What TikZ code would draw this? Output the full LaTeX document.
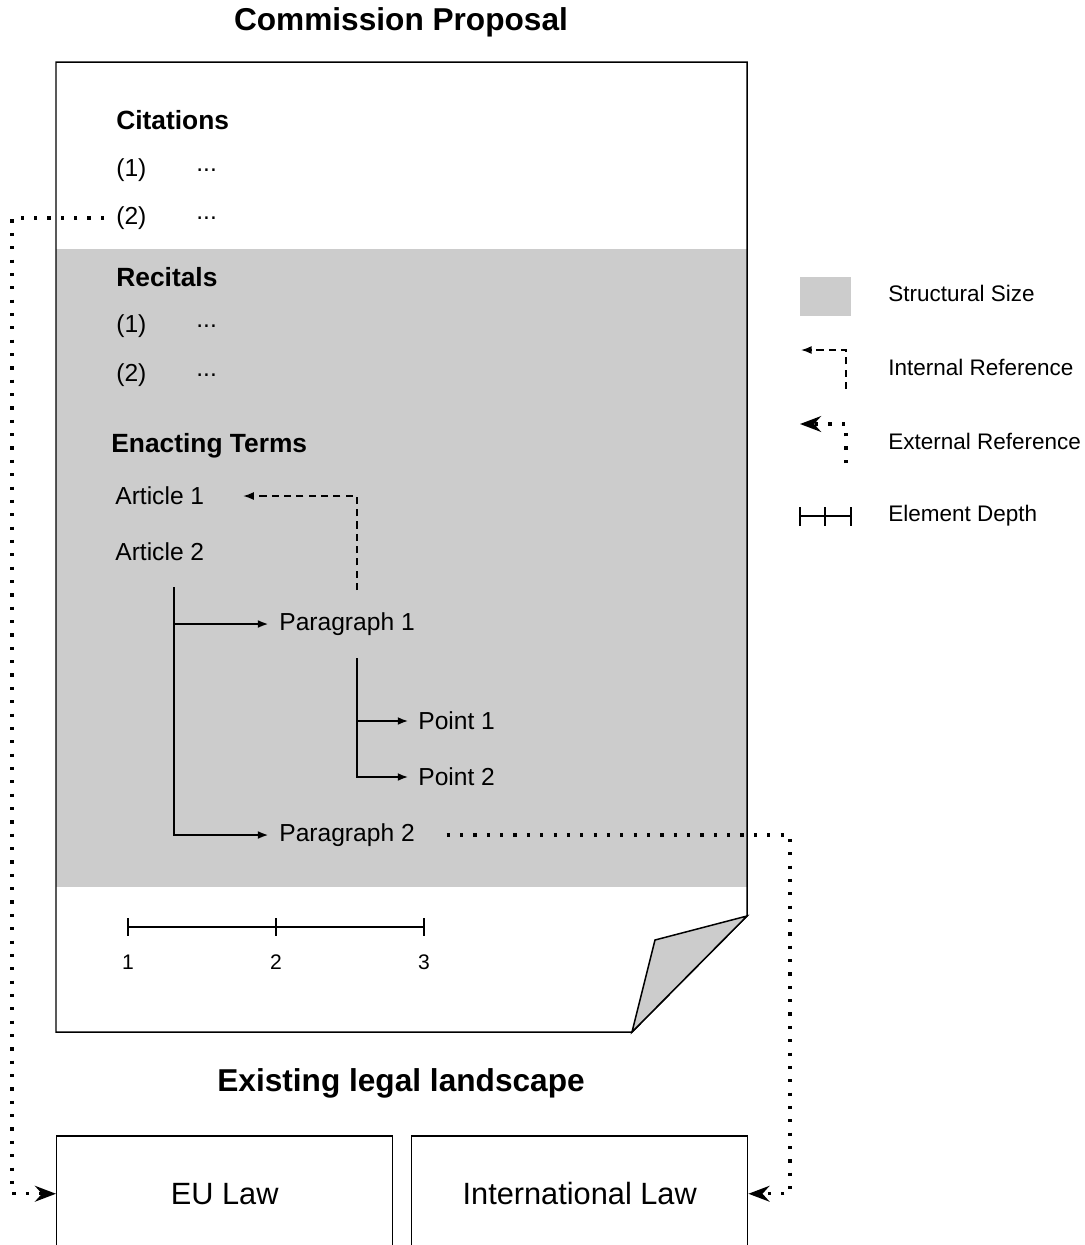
\documentclass[tikz,border=0pt]{standalone}
\usepackage{fontspec}
\setmainfont{Liberation Sans}
\usetikzlibrary{arrows.meta}
\definecolor{structgrey}{HTML}{CCCCCC}
\newcommand{\fsz}[1]{\fontsize{#1}{1.2\dimexpr#1\relax}\selectfont}

\begin{document}
\begin{tikzpicture}[x = 0.02cm, y = -0.02cm,
	txt/.style = {inner sep = 0pt, anchor = west, font = \fsz{14pt}},
	head/.style = {txt, font = \fsz{15pt}\bfseries},
	title/.style = {inner sep = 0pt, font = \fsz{18pt}\bfseries},
	legend/.style = {txt, font = \fsz{12.8pt}},
	lawbox/.style = {draw, line width = 0.85pt, anchor = north west, minimum width = 6.72cm, minimum height = 2.32cm, font = \fsz{17.5pt}},
	tree/.style = {line width = 1.1pt, -{Latex[length=6pt,width=4.5pt]}},
	intref/.style = {line width = 0.85pt, dash pattern = on 4pt off 3pt, -{Latex[length=6pt,width=4.5pt]}},
	extref/.style = {line width = 1.8pt, dash pattern = on 1.8pt off 5.8pt, -{Stealth[length=12pt,width=9pt,inset=4pt]}}
]
\useasboundingbox (0 ,0) rectangle (1085 ,1245);
\clip (0 ,0) rectangle (1085 ,1245);

\node [title] (proposal) at (401 ,22) {Commission Proposal};

\fill [white] (56 ,62) -- (747 ,62) -- (747 ,916) -- (632 ,1032) -- (56 ,1032) -- cycle;
\fill [structgrey] (56 ,249) rectangle (747 ,887);
\draw [line width = 0.85pt] (56 ,62) -- (747 ,62) -- (747 ,916) -- (632 ,1032) -- (56 ,1032) -- cycle;
\draw [line width = 0.85pt, fill = structgrey] (747 ,916) -- (655 ,940) -- (632 ,1032) -- cycle;

\node [head] (citations) at (116 ,120) {Citations};
\node [txt] (cit1) at (116 ,170) {(1)};
\node [txt] (cit1dots) at (196 ,170) {...};
\node [txt] (cit2) at (116 ,218) {(2)};
\node [txt] (cit2dots) at (196 ,218) {...};

\node [head] (recitals) at (116 ,277) {Recitals};
\node [txt] (rec1) at (116 ,326) {(1)};
\node [txt] (rec1dots) at (196 ,326) {...};
\node [txt] (rec2) at (116 ,375) {(2)};
\node [txt] (rec2dots) at (196 ,375) {...};

\node [head] (enacting) at (111 ,446) {Enacting Terms};
\node [txt] (art1) at (115 ,496) {Article 1};
\node [txt] (art2) at (115 ,552) {Article 2};
\node [txt] (par1) at (279 ,624) {Paragraph 1};
\node [txt] (pt1) at (418 ,721) {Point 1};
\node [txt] (pt2) at (418 ,777) {Point 2};
\node [txt] (par2) at (279 ,835) {Paragraph 2};

\coordinate (artroot) at (174 ,587);
\coordinate (parroot) at (357 ,658);
\coordinate (refstart) at (357 ,590);
\coordinate (citref) at (104 ,218);

\draw [tree, shorten > = 6pt] (artroot) |- (par2.west);
\draw [tree, shorten > = 6pt] (artroot |- par1.west) -- (par1.west);
\draw [tree, shorten > = 5.5pt] (parroot) |- (pt2.west);
\draw [tree, shorten > = 5.5pt] (parroot |- pt1.west) -- (pt1.west);
\draw [intref, shorten > = 22pt] (refstart) |- (art1.east);

\foreach \x [count=\i] in {128 ,276 ,424}{
	\draw [line width = 0.85pt] (\x ,918) -- (\x ,936);
	\node [inner sep = 0pt, font = \fsz{12pt}] (depth\i) at (\x ,962) {\i};
}
\draw [line width = 0.85pt] (depth1 |- 0 ,927) -- (depth3 |- 0 ,927);

\node [title] (landscape) at (401 ,1083) {Existing legal landscape};
\node [lawbox] (eulaw) at (56 ,1135) {EU Law};
\node [lawbox] (intlaw) at (411 ,1135) {International Law};

\draw [extref] (citref) -- (12 ,218) |- (eulaw.west);
\draw [extref, shorten < = 18pt] (par2.east) -- (790 ,835) |- (intlaw.east);

\fill [structgrey] (800 ,277) rectangle (851 ,316);
\node [legend] (lgsize) at (888 ,293) {Structural Size};
\node [legend] (lgint) at (888 ,367) {Internal Reference};
\node [legend] (lgext) at (888 ,441) {External Reference};
\node [legend] (lgdepth) at (888 ,516) {Element Depth};
\draw [intref] (846 ,389) |- (801 ,350);
\draw [extref] (846 ,463) |- (800 ,424);
\draw [line width = 0.85pt] (800 ,516) -- (851 ,516);
\foreach \x in {800 ,825 ,851}{
	\draw [line width = 0.85pt] (\x ,507) -- (\x ,526);
}
\end{tikzpicture}
\end{document}
